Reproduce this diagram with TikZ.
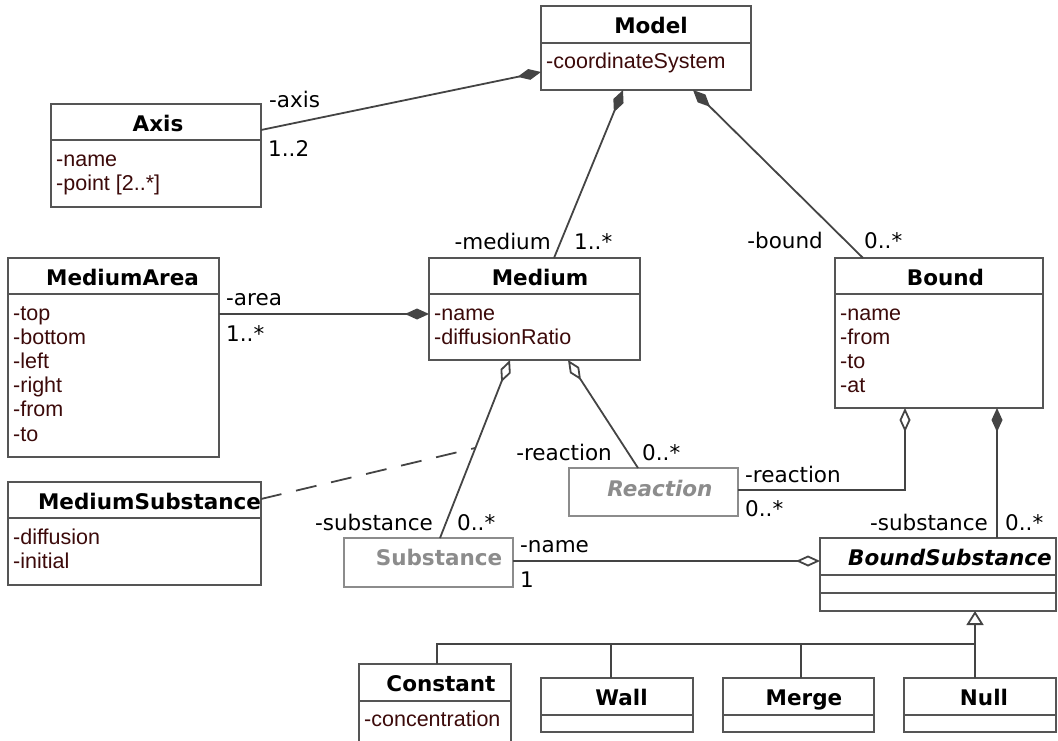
\documentclass[tikz,border=0pt]{standalone}
\usepackage{fontspec}
\setmainfont{DejaVu Sans}
\newfontfamily\attrfamily{Liberation Sans}
\usetikzlibrary{arrows.meta,calc}

\definecolor{boxline}{HTML}{555555}
\definecolor{wire}{HTML}{444444}
\definecolor{attrink}{HTML}{3C0A0A}
\definecolor{ghost}{HTML}{8C8C8C}

\tikzset{
  classbox/.style={draw=boxline, line width=1.8pt, fill=white, inner sep=0pt, outer sep=0pt, anchor=north west},
  ghostbox/.style={classbox, draw=ghost},
  divider/.style={draw=boxline, line width=1.8pt},
  titletext/.style={inner sep=0pt, anchor=base, font=\fontsize{21.5}{24}\selectfont\bfseries},
  ghosttitle/.style={titletext, text=ghost},
  attrtext/.style={inner sep=0pt, anchor=base west, text=attrink, font=\attrfamily\fontsize{21.5}{24}\selectfont},
  role/.style={inner sep=0pt, font=\fontsize{21.5}{24}\selectfont},
  wireline/.style={draw=wire, line width=1.8pt},
  dashline/.style={wireline, dash pattern=on 21pt off 15pt},
}

% class box: name, left, top, width, height, title centre x, title
\newcommand\umlclass[7]{%
  \node[classbox, minimum width=#4, minimum height=#5] (#1) at (#2,#3) {};
  \node[titletext] (#1-title) at (#6,#3+27.5) {#7};
}
% horizontal compartment divider: class name, offset from top
\newcommand\umldivider[2]{%
  \draw[divider] ($(#1.north west)+(0,#2)$) -- ($(#1.north east)+(0,#2)$);
}
% attribute lines: class name, x, first baseline, list
\newcommand\umlattrs[4]{%
  \foreach \txt [count=\i] in {#4} {%
    \node[attrtext] (#1-a\i) at (#2,#3+24.1*\i-24.1) {\txt};
  }%
}

\begin{document}
\begin{tikzpicture}[x=1pt,y=-1pt]
\useasboundingbox (0,0) rectangle (1058,741);
\clip (0,0) rectangle (1058,741);

% ---------- classes ----------
\umlclass{model}{541}{6}{210}{84}{651}{Model}
\umldivider{model}{37}
\umlattrs{model}{546}{69}{-coordinateSystem}

\umlclass{axis}{51}{104}{210}{103}{158}{Axis}
\umldivider{axis}{36}
\umlattrs{axis}{56}{166.5}{-name,{-point [2..*]}}

\umlclass{mediumarea}{8}{258}{211}{199}{122.5}{MediumArea}
\umldivider{mediumarea}{36}
\umlattrs{mediumarea}{13}{320.5}{-top,-bottom,-left,-right,-from,-to}

\umlclass{medium}{429}{258}{211}{102}{540}{Medium}
\umldivider{medium}{36}
\umlattrs{medium}{434}{320.5}{-name,-diffusionRatio}

\umlclass{bound}{835}{258}{208}{150}{945.5}{Bound}
\umldivider{bound}{36}
\umlattrs{bound}{840}{320.5}{-name,-from,-to,-at}

\umlclass{mediumsubstance}{8}{482}{253}{103}{149.5}{MediumSubstance}
\umldivider{mediumsubstance}{36}
\umlattrs{mediumsubstance}{13}{544.5}{-diffusion,-initial}

\node[ghostbox, minimum width=169, minimum height=48] (reaction) at (569,468) {};
\node[ghosttitle, font=\fontsize{21.5}{24}\selectfont\bfseries\itshape] (reaction-title) at (660,496) {Reaction};

\node[ghostbox, minimum width=169, minimum height=49] (substance) at (344,538) {};
\node[ghosttitle] (substance-title) at (439,565.5) {Substance};

\umlclass{boundsubstance}{820}{538}{236}{73}{950}{\itshape BoundSubstance}
\umldivider{boundsubstance}{37}
\umldivider{boundsubstance}{55}

\umlclass{constant}{359}{664}{152}{100}{441}{Constant}
\umldivider{constant}{37}
\umlattrs{constant}{364}{726.5}{-concentration}

\umlclass{wall}{541}{678}{152}{54}{621.5}{Wall}
\umldivider{wall}{37}
\umlclass{merge}{723}{678}{151}{54}{804}{Merge}
\umldivider{merge}{37}
\umlclass{null}{904}{678}{152}{54}{984}{Null}
\umldivider{null}{37}

% ---------- associations ----------
% Model -- Axis
\draw[wireline, -{Diamond[length=24pt,width=11pt]}]
  ($(axis.north east)+(0,26)$) -- ($(model.north west)+(0,66)$);
\node[role, anchor=base west] (axis-role) at (269,108) {-axis};
\node[role, anchor=base west] (axis-mult) at (268,157) {1..2};

% Model -- Medium
\draw[wireline, {Diamond[length=24pt,width=11pt]}-]
  ($(model.south west)+(82,0)$) -- ($(medium.north west)+(125,0)$);
\node[role, anchor=base east] (medium-role) at (551,249) {-medium};
\node[role, anchor=base west] (medium-mult) at (574,249) {1..*};

% Model -- Bound
\draw[wireline, {Diamond[length=24pt,width=11pt]}-]
  ($(model.south west)+(152,0)$) -- ($(bound.north west)+(28,0)$);
\node[role, anchor=base east] (bound-role) at (823,248) {-bound};
\node[role, anchor=base west] (bound-mult) at (864,248) {0..*};

% Medium -- MediumArea
\draw[wireline, -{Diamond[length=24pt,width=11pt]}]
  ($(mediumarea.north east)+(0,56)$) -- ($(medium.north west)+(0,56)$);
\node[role, anchor=base west] (area-role) at (226,305) {-area};
\node[role, anchor=base west] (area-mult) at (226,341) {1..*};

% Medium -- Substance
\coordinate (medsub-top) at ($(medium.south west)+(81,0)$);
\coordinate (medsub-bot) at ($(substance.north west)+(96,0)$);
\draw[wireline, {Diamond[open,length=24pt,width=11pt]}-] (medsub-top) -- (medsub-bot);
\node[role, anchor=base east] (medsub-role) at (433,530) {-substance};
\node[role, anchor=base west] (medsub-mult) at (457,530) {0..*};

% association class MediumSubstance
\draw[dashline] ($(mediumsubstance.north east)+(0,17)$) -- ($(medsub-top)!0.494!(medsub-bot)$);

% Medium -- Reaction
\draw[wireline, {Diamond[open,length=24pt,width=11pt]}-]
  ($(medium.south west)+(139,0)$) -- ($(reaction.north west)+(69,0)$);
\node[role, anchor=base east] (medreac-role) at (612,460) {-reaction};
\node[role, anchor=base west] (medreac-mult) at (642,460) {0..*};

% Bound -- Reaction
\draw[wireline, -{Diamond[open,length=24pt,width=11pt]}]
  ($(reaction.north east)+(0,22)$) -| ($(bound.south west)+(70,0)$);
\node[role, anchor=base west] (boundreac-role) at (745,482) {-reaction};
\node[role, anchor=base west] (boundreac-mult) at (745,516) {0..*};

% Bound -- BoundSubstance
\draw[wireline, {Diamond[length=24pt,width=11pt]}-]
  ($(bound.south west)+(162,0)$) -- ($(boundsubstance.north west)+(177,0)$);
\node[role, anchor=base east] (boundsub-role) at (988,530) {-substance};
\node[role, anchor=base west] (boundsub-mult) at (1005,530) {0..*};

% BoundSubstance -- Substance
\draw[wireline, -{Diamond[open,length=24pt,width=11pt]}]
  ($(substance.north east)+(0,23)$) -- ($(boundsubstance.north west)+(0,23)$);
\node[role, anchor=base west] (name-role) at (520,552) {-name};
\node[role, anchor=base west] (name-mult) at (520,587) {1};

% ---------- generalization ----------
\coordinate (gen-joint) at ($(boundsubstance.south west)+(155,33)$);
\draw[wireline, -{Triangle[open,length=14pt,width=17pt]}]
  ($(null.north west)+(71,0)$) -- ($(boundsubstance.south west)+(155,0)$);
\draw[wireline] ($(constant.north west)+(78,0)$) |- (gen-joint);
\draw[wireline] ($(wall.north west)+(70,0)$) |- (gen-joint);
\draw[wireline] ($(merge.north west)+(78,0)$) |- (gen-joint);

\end{tikzpicture}
\end{document}
